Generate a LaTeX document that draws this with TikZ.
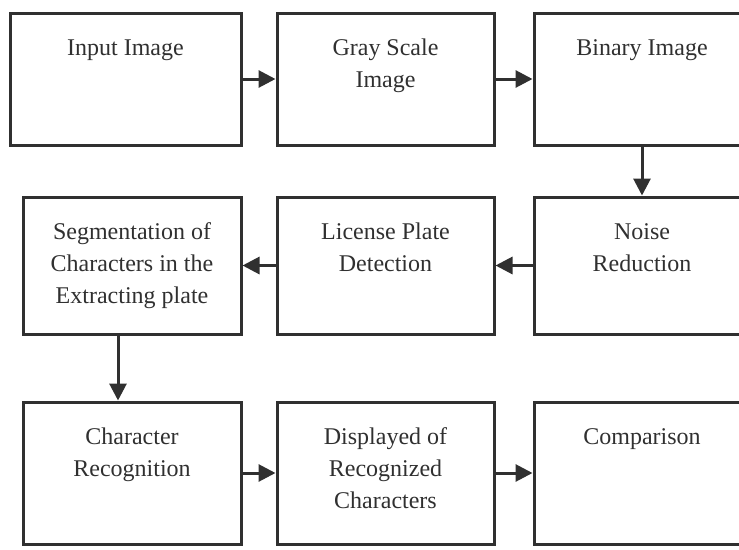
\documentclass[tikz,border=0pt]{standalone}
\usepackage{fontspec}
\setmainfont{Liberation Serif}
\usepackage{xcolor}
\definecolor{ink}{HTML}{303030}
\usetikzlibrary{arrows.meta}

\begin{document}
\begin{tikzpicture}[x=1pt,y=-1pt,font=\fontsize{24}{32}\selectfont,
  stepbox/.style={draw=ink,line width=3pt,inner sep=0pt,text=ink},
  flow/.style={ink,line width=3pt,-{Triangle[length=17pt,width=17pt]}}]
  \useasboundingbox (0,0) rectangle (739,549);
  \foreach \name/\x/\y/\w/\h/\txt in {
    in/125.5/79/231/132/Input Image,
    gray/385.5/79/217/132/Gray Scale\\Image,
    bin/642/79/216/132/Binary Image,
    seg/132/265.5/218/137/Segmentation of\\Characters in the\\Extracting plate,
    lic/385.5/265.5/217/137/License Plate\\Detection,
    noise/642/265.5/216/137/Noise\\Reduction,
    chr/132/473/218/142/Character\\Recognition,
    disp/385.5/473/217/142/Displayed of\\Recognized\\Characters,
    comp/642/473/216/142/Comparison} {
    \node[stepbox] (\name) at (\x,\y)
      {\parbox[c][\h pt][t]{\w pt}{\centering\rule{0pt}{42pt}\txt}};
  }
  \draw[flow] (in) -- (gray);
  \draw[flow] (gray) -- (bin);
  \draw[flow] (bin) -- (noise);
  \draw[flow] (noise) -- (lic);
  \draw[flow] (lic) -- (seg);
  \draw[flow] ([xshift=-14pt]seg.south) -- ([xshift=-14pt]chr.north);
  \draw[flow] (chr) -- (disp);
  \draw[flow] (disp) -- (comp);
\end{tikzpicture}
\end{document}
